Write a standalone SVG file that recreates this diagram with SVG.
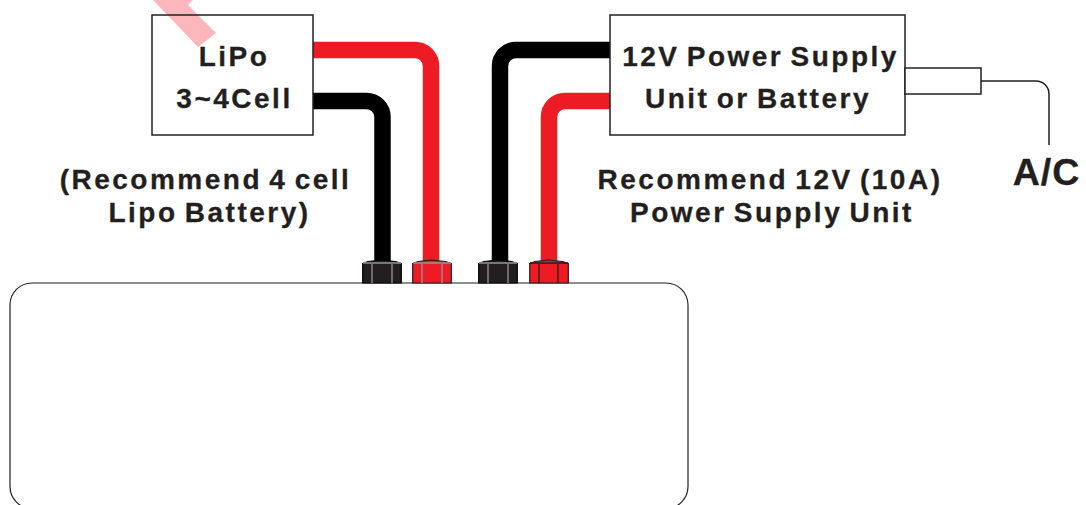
<svg xmlns="http://www.w3.org/2000/svg" width="1086" height="505" viewBox="0 0 1086 505">
<style>
text{font-family:"Liberation Sans",Arial,sans-serif;font-weight:700;fill:#231f20;text-anchor:middle;stroke:#231f20;stroke-width:.3}
.t{font-size:28px;letter-spacing:2.500px;word-spacing:-3px}
.box{fill:#fff;stroke:#231f20;stroke-width:1.5}
.w{fill:none;stroke-width:16.5}
.k{stroke:#000}.r{stroke:#ed1c24}
.nk{fill:#231f20;stroke:#000}.nr{fill:#ed1c24;stroke:#231f20}
.e{stroke:#939598;stroke-width:1.3;fill:none}
.e2{stroke:#231f20;stroke-width:1.3;fill:none}
.thin{fill:none;stroke:#231f20;stroke-width:1.5}
</style>
<defs>
<g id="nut"><path d="M0.7 263.500L6 261.500L19.500 260L33.500 261.500L39.300 263.500V283H0.700Z" stroke-width="1.200"/></g>
</defs>
<polygon id="mark" points="153,0 198,47 216,33 188,5 193,0" fill="#fbb7bb"/>
<g id="connectors">
<path class="w r" d="M313 50H415A16 16 0 0 1 431 66V261"/>
<path class="w k" d="M313 101H366.500A16 16 0 0 1 382.500 117V261"/>
<path class="w k" d="M610 50H516A16 16 0 0 0 500 66V261"/>
<path class="w r" d="M610 101H565A16 16 0 0 0 549 117V261"/>
<path class="thin" d="M981 81H1036A13 13 0 0 1 1049 94V145"/>
</g>
<g id="main-unit"><rect x="10" y="283" width="678" height="225.600" rx="22" ry="22" fill="#fff" stroke="#231f20" stroke-width="1.200"/></g>
<g id="post-1"><use href="#nut" x="362" class="nk"/><path class="e" d="M372 264V283M392 264V283M363 263H401"/></g>
<g id="post-2"><use href="#nut" x="412" class="nr"/><path class="e" d="M422 264V283M442 264V283M413 263H451"/></g>
<g id="post-3"><use href="#nut" x="478" class="nk"/><path class="e" d="M488 264V283M508 264V283M479 263H517"/></g>
<g id="post-4"><use href="#nut" x="529" class="nr"/><path class="e2" d="M539 264V283M558 264V283M530 263H568"/></g>
<g id="lipo"><rect class="box" x="152" y="15" width="161" height="120" fill-opacity="0"/>
<text class="t" x="234" y="66">LiPo</text><text class="t" x="234.500" y="108">3~4Cell</text></g>
<g id="psu"><rect class="box" x="610" y="15" width="295" height="120"/>
<text class="t" x="760.500" y="66">12V Power Supply</text><text class="t" x="758" y="108">Unit or Battery</text></g>
<g id="plug"><rect class="box" x="905" y="68" width="76" height="26"/></g>
<g id="labels">
<text class="t" x="205.500" y="189">(Recommend 4 cell</text>
<text class="t" x="209.500" y="222">Lipo Battery)</text>
<text class="t" x="770" y="189">Recommend 12V (10A)</text>
<text class="t" x="772" y="222">Power Supply Unit</text>
<text x="1046.500" y="185" font-size="37.500" letter-spacing="1">A/C</text>
</g>
</svg>
